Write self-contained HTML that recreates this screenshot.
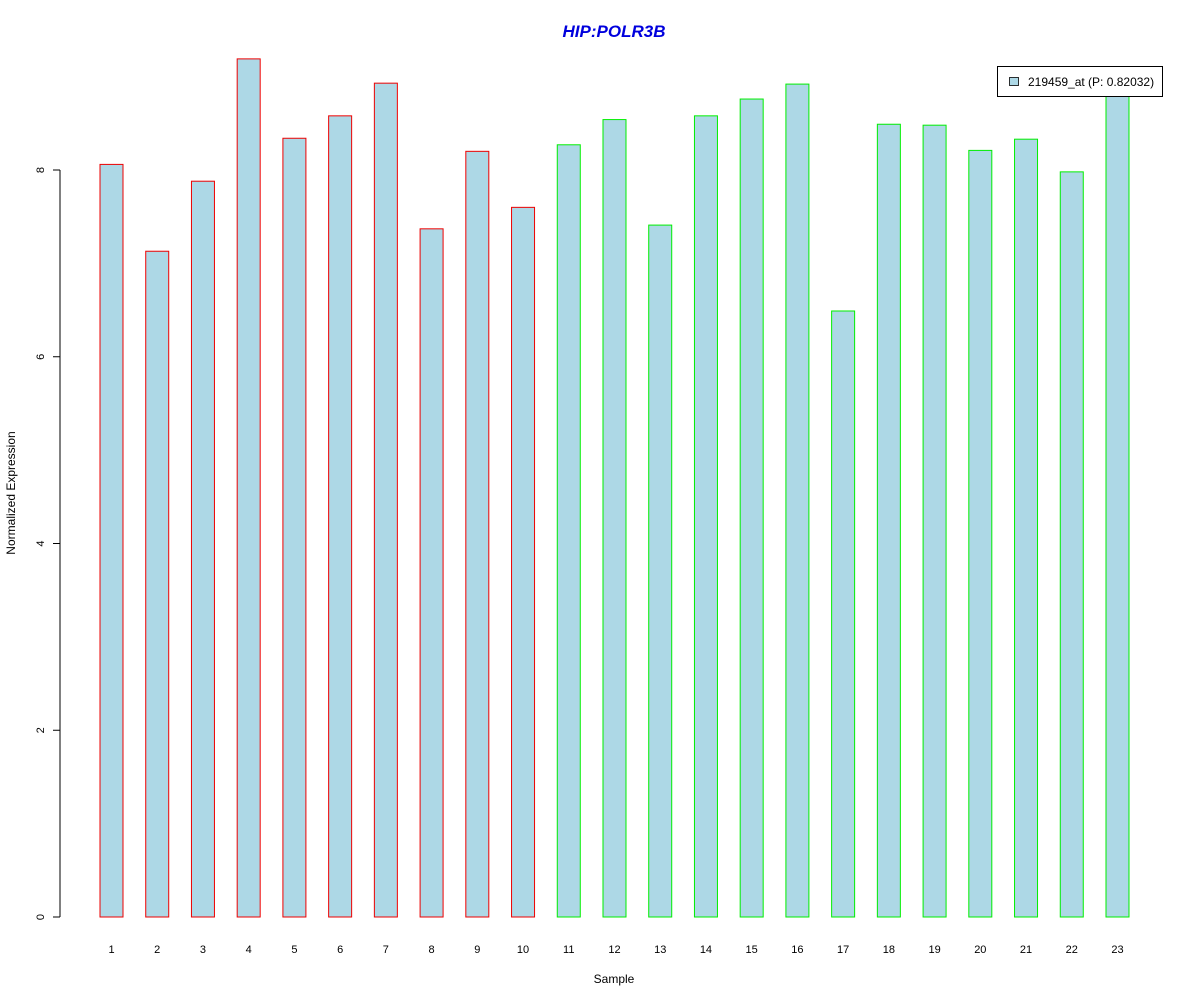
<!DOCTYPE html>
<html><head><meta charset="utf-8"><style>body{margin:0;background:#fff}svg{display:block;font-family:"Liberation Sans",Arial,sans-serif}</style></head>
<body>
<svg id="chart" width="1200" height="1000" xmlns="http://www.w3.org/2000/svg">
<rect width="1200" height="1000" fill="#fff"/>
<text x="614" y="37" text-anchor="middle" font-size="17" font-weight="bold" font-style="italic" fill="#0000dd">HIP:POLR3B</text>
<text x="614" y="983" text-anchor="middle" font-size="12">Sample</text>
<text transform="translate(15,493) rotate(-90)" text-anchor="middle" font-size="12">Normalized Expression</text>
<g id="axis"></g><g id="bars"></g>
<g>
<rect x="997.5" y="66.5" width="165" height="30" fill="#fff" stroke="#000"/>
<rect x="1009.5" y="77.5" width="9" height="8" fill="#add8e6" stroke="#000" stroke-width="0.8"/>
<text x="1028" y="86" font-size="12">219459_at (P: 0.82032)</text>
</g>
</svg>
<script>
const categories=["1","2","3","4","5","6","7","8","9","10","11","12","13","14","15","16","17","18","19","20","21","22","23"];
const values=[8.06,7.13,7.88,9.19,8.34,8.58,8.93,7.37,8.20,7.60,8.27,8.54,7.41,8.58,8.76,8.92,6.49,8.49,8.48,8.21,8.33,7.98,8.9];
const groups=[0,0,0,0,0,0,0,0,0,0,1,1,1,1,1,1,1,1,1,1,1,1,1];
const yTicks=[0,2,4,6,8];
const NS="http://www.w3.org/2000/svg";
const y=v=>917-v*93.375;
const x=i=>111.5+i*45.727;
const bars=document.getElementById('bars'),axis=document.getElementById('axis');
function mk(t,a,p){const e=document.createElementNS(NS,t);for(const k in a)e.setAttribute(k,a[k]);p.appendChild(e);return e;}
const ax=mk('line',{x1:60,x2:60,y1:y(0),y2:y(8),stroke:'#000'},axis);


yTicks.forEach(t=>{
 const l=mk('line',{x1:53,x2:60,y1:y(t),y2:y(t),stroke:'#000'},axis);
 
 
 const tx=mk('text',{transform:`translate(44,${y(t)}) rotate(-90)`,'text-anchor':'middle','font-size':11},axis);
 tx.textContent=t;
 
 
});
values.forEach((v,i)=>{
 const r=mk('rect',{x:x(i)-11.5,y:y(v),width:23,height:y(0)-y(v),fill:'#add8e6',stroke:groups[i]?'#00ee00':'#ee0000'},bars);
 
 
 const t=mk('text',{x:x(i),y:953,'text-anchor':'middle','font-size':11},bars);
 t.textContent=categories[i];
 
 
});
</script>
</body></html>
